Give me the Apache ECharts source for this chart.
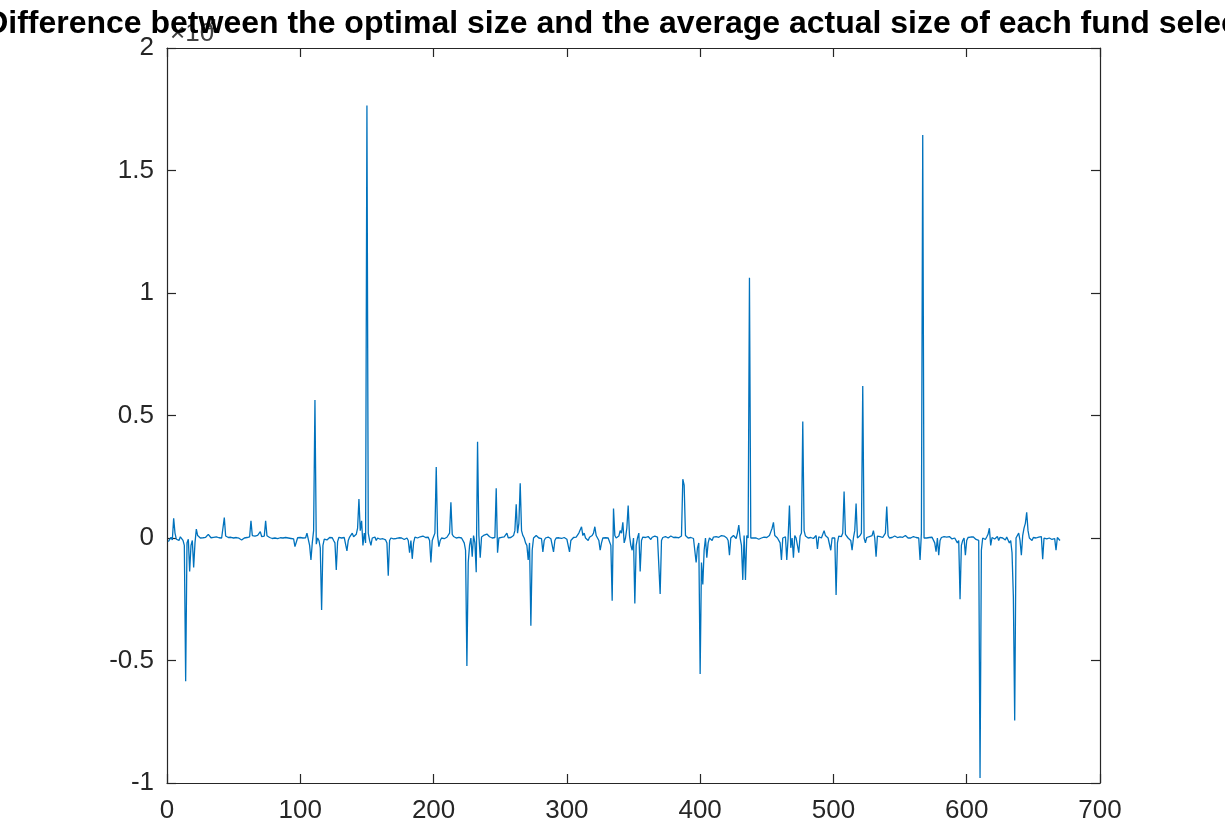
<!DOCTYPE html>
<html>
<head>
<meta charset="utf-8">
<title>Difference between optimal and actual fund size</title>
<script src="https://cdn.jsdelivr.net/npm/echarts@6/dist/echarts.min.js"></script>
<style>
  html, body { margin: 0; padding: 0; background: #ffffff; }
  #chart { width: 1225px; height: 830px; }
</style>
</head>
<body>
<div id="chart"></div>
<script>
// Difference (optimal size minus average actual size) for each selected fund, fund index 1..670
const sizeDiff = [
  -150, -120, 30, -80, 800, 200, -50, 0, -100, 50,
  -30, -100, -300, -5850, -200, -50, -1370, -300, -100, -1200,
  -200, 360, 100, 20, 0, 40, 10, -20, 30, 0,
  150, 120, 10, -10, 30, 0, 50, -20, 10, 20,
  0, 30, 830, 80, 0, 20, -10, 30, 100, 0,
  -30, 20, -60, -10, 10, -80, -40, 0, 30, 20,
  0, 50, 700, 100, 20, 80, 40, 110, 30, 260,
  60, 20, 80, 700, 90, 40, 20, 10, -20, 40,
  0, 10, -30, 20, 10, -10, 0, -40, 20, 10,
  0, 30, -20, 0, -40, -350, -300, 10, 0, 20,
  -20, 0, 30, 10, 200, 150, -300, -900, -200, 300,
  5630, -250, 0, -100, -400, -2940, -300, -50, 30, -80,
  -40, 20, -60, 10, -100, -200, -1300, -150, 30, -20,
  0, -80, 20, -50, -530, -100, 40, -30, 200, 50,
  0, 150, 400, 1590, 300, 700, -300, 200, -200, 17650,
  200, -100, -300, 0, -60, 40, -100, 0, -20, -50,
  20, -30, 0, -80, -200, -1540, -100, 0, 20, -40,
  0, -20, -40, 10, -20, 0, 30, -60, -20, 0,
  -100, -600, -100, -850, -200, 40, 60, 0, 80, 50,
  30, 80, 40, 20, 0, 30, -100, -1000, -100, 50,
  200, 2900, 100, -350, -100, 0, 20, -30, 10, 30,
  40, 200, 1460, 150, 60, 20, 0, 40, 30, -20,
  0, -60, -200, -500, -5220, -1000, -300, 0, -760, 100,
  -200, -1400, 3930, 100, -800, 40, 80, 120, 60, 160,
  100, 50, 60, 0, 40, 20, 2030, -600, 0, 40,
  30, 0, 50, 20, 200, 10, -20, 20, 60, 100,
  300, 1380, 200, 600, 2230, 300, 100, 0, -200, -300,
  -900, -200, -3580, -500, 0, 40, 100, 30, 0, -40,
  -30, -570, -100, 0, 20, 40, 10, -30, -100, -570,
  -100, 0, 30, 10, 40, -20, -60, 20, 0, -50,
  -40, -570, -100, -30, 20, 0, 40, 100, 200, 150,
  460, 100, 200, 0, 80, -100, 30, 50, 100, 200,
  460, 100, 0, -100, -500, -200, 0, 40, 10, -30,
  0, 20, -300, -2560, 1200, 100, 0, 30, 80, 300,
  200, 640, -200, 0, 400, 1330, 100, -300, -500, 0,
  -2670, -300, 0, 200, -1370, -100, 40, 0, 20, -40,
  60, 20, -60, 30, 0, 80, 30, 40, -20, -2280,
  -100, 20, 0, 60, 40, 0, 20, 80, 60, 20,
  0, 30, -30, 10, 40, 80, 2400, 2160, 100, 40,
  0, -30, 20, 0, -20, -60, -1000, -400, -200, -5550,
  -1000, -1900, -500, 0, -800, -200, 0, 30, -100, 40,
  0, 60, 80, 30, -40, 100, 60, 80, 50, 0,
  -100, -700, 0, 40, 100, 40, -20, 200, 530, 0,
  -300, -1710, 100, -1710, 100, 0, 10620, 0, 20, 0,
  -20, 0, -40, -50, -20, 0, -20, 40, 0, 20,
  0, 100, 250, 400, 640, 100, 40, 0, 30, -200,
  -900, 0, 80, 50, -900, 0, 1330, -400, 0, -800,
  100, 0, 40, -600, 80, 200, 4750, 300, 80, 40,
  0, 60, 20, 0, -20, 40, 100, -450, 50, 100,
  0, 60, 300, 100, 80, 0, 40, -500, 0, 60,
  0, -2330, -200, 80, 0, 60, 200, 1900, 150, 100,
  0, 80, -100, -500, 0, 300, 1410, 0, 60, 100,
  200, 6200, 0, -200, 20, 0, 60, 80, 100, 300,
  0, -760, 80, 0, 60, 40, 20, 0, 200, 1280,
  100, 0, 40, 20, 0, 80, 60, 20, 0, 50,
  0, 30, 40, 100, 20, 0, 50, 0, 30, 60,
  0, 20, 40, 0, -900, 200, 16450, 0, 20, 0,
  40, 20, 0, 30, 0, -200, -560, 0, -700, -100,
  20, 0, 60, 80, 40, 0, 60, 0, -40, 40,
  0, 20, -200, -100, -2500, -300, -100, 0, -700, -100,
  20, 0, 40, 60, 40, 20, -60, 0, -100, -9800,
  -500, 0, 60, -60, 40, 150, 400, -300, 20, 100,
  -40, 0, 60, -100, 30, 60, 0, 20, -80, 40,
  0, -200, -100, -600, -2400, -7450, 0, 100, 200, -100,
  -700, 100, 400, 600, 1050, 300, 0, 40, -100, 20,
  30, 0, -40, 40, 0, 60, -870, 0, 30, -40,
  40, 0, 20, -60, 0, -20, -500, 20, 0, -100
];

// Axis ticks
const xTicks = [0, 100, 200, 300, 400, 500, 600, 700];
const yTicks = [-10000, -5000, 0, 5000, 10000, 15000, 20000];
const yScale = 10000;   // tick labels are shown in units of 10^4

const chartTitle = 'Difference between the optimal size and the average actual size of each fund selected';

const axisColor = '#262626';
const lineColor = '#0072BD';
const fontFamily = '"Liberation Sans", Arial, Helvetica, sans-serif';

const points = sizeDiff.map((v, i) => [i + 1, v]);

const chart = echarts.init(document.getElementById('chart'), null, { renderer: 'canvas' });

const commonAxisLine = { show: true, onZero: false, lineStyle: { color: axisColor, width: 1.2 } };
const commonTick = { show: true, inside: true, length: 9, lineStyle: { color: axisColor, width: 1.2 } };

const xBase = {
  type: 'value',
  min: xTicks[0],
  max: xTicks[xTicks.length - 1],
  interval: xTicks[1] - xTicks[0],
  splitLine: { show: false },
  axisLine: commonAxisLine,
  axisTick: commonTick
};
const yBase = {
  type: 'value',
  min: yTicks[0],
  max: yTicks[yTicks.length - 1],
  interval: yTicks[1] - yTicks[0],
  splitLine: { show: false },
  axisLine: commonAxisLine,
  axisTick: commonTick
};

chart.setOption({
  animation: false,
  backgroundColor: '#ffffff',
  grid: { left: 167, right: 125, top: 48, bottom: 47, containLabel: false },
  xAxis: [
    Object.assign({}, xBase, {
      position: 'bottom',
      axisLabel: { show: true, color: axisColor, fontSize: 26, fontFamily: fontFamily, margin: 15 }
    }),
    Object.assign({}, xBase, { position: 'top', axisLabel: { show: false } })
  ],
  yAxis: [
    Object.assign({}, yBase, {
      position: 'left',
      axisLabel: {
        show: true, color: axisColor, fontSize: 26, fontFamily: fontFamily, margin: 13,
        formatter: v => String(v / yScale)
      }
    }),
    Object.assign({}, yBase, { position: 'right', axisLabel: { show: false } })
  ],
  series: [{
    type: 'line',
    xAxisIndex: 0,
    yAxisIndex: 0,
    data: points,
    showSymbol: false,
    symbol: 'none',
    lineStyle: { color: lineColor, width: 1.3 },
    emphasis: { disabled: true }
  }],
  graphic: [
    {
      type: 'text', x: 170, y: 47, z: 10,
      style: { text: '×10', font: '26px ' + fontFamily, fill: '#404040', textVerticalAlign: 'bottom' }
    },
    {
      type: 'text', x: 207, y: 36, z: 10,
      style: { text: '4', font: '19px ' + fontFamily, fill: '#404040', textVerticalAlign: 'bottom' }
    },
    {
      type: 'text', x: 636, y: 24, z: 20,
      style: { text: chartTitle, font: 'bold 32px ' + fontFamily, fill: '#000000', textAlign: 'center', textVerticalAlign: 'middle' }
    }
  ]
});
</script>
</body>
</html>
